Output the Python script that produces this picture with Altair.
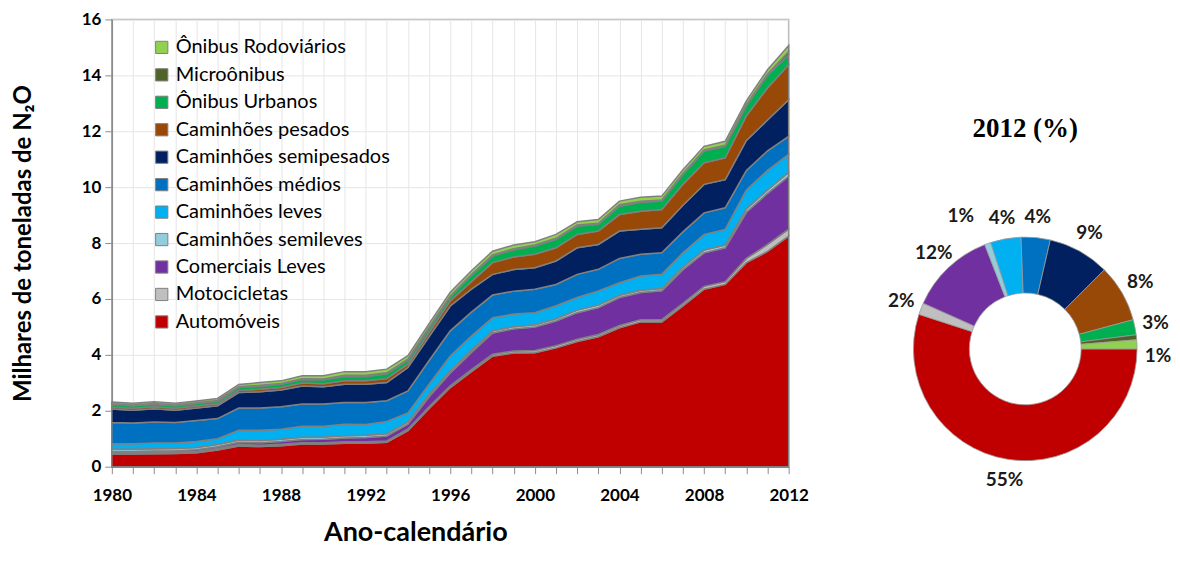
import math
import altair as alt
import pandas as pd

anos = list(range(1980, 2013))

categorias = ["Automóveis", "Motocicletas", "Comerciais Leves", "Caminhões semileves",
              "Caminhões leves", "Caminhões médios", "Caminhões semipesados",
              "Caminhões pesados", "Ônibus Urbanos", "Microônibus", "Ônibus Rodoviários"]
cores = ["#C00000", "#BFBFBF", "#7030A0", "#93CDDD", "#00B0F0", "#0070C0", "#002060",
         "#984807", "#00B050", "#4F6228", "#92D050"]

automoveis = [0.45, 0.45, 0.46, 0.47, 0.50, 0.60, 0.74, 0.72, 0.75, 0.81, 0.81, 0.84, 0.84, 0.87,
              1.29, 2.08, 2.83, 3.40, 3.95, 4.07, 4.08, 4.25, 4.48, 4.65, 4.97, 5.18, 5.18, 5.75,
              6.35, 6.52, 7.30, 7.70, 8.25]
motocicletas = [0.05, 0.05, 0.05, 0.05, 0.05, 0.05, 0.05, 0.05, 0.05, 0.05, 0.05, 0.05, 0.05, 0.05,
                0.06, 0.06, 0.06, 0.07, 0.07, 0.07, 0.08, 0.08, 0.08, 0.08, 0.08, 0.08, 0.08, 0.09,
                0.10, 0.10, 0.15, 0.25, 0.25]
comerciais_leves = [0.04, 0.04, 0.05, 0.05, 0.06, 0.06, 0.08, 0.09, 0.10, 0.11, 0.12, 0.14, 0.15, 0.18,
                    0.17, 0.36, 0.46, 0.62, 0.76, 0.79, 0.84, 0.88, 0.95, 0.96, 1.00, 0.97, 1.03, 1.21,
                    1.20, 1.21, 1.65, 1.83, 1.89]
cam_semileves = [0.08, 0.08, 0.08, 0.08, 0.08, 0.08, 0.08, 0.08, 0.08, 0.08, 0.08, 0.08, 0.08, 0.08,
                 0.08, 0.08, 0.08, 0.08, 0.08, 0.08, 0.08, 0.08, 0.09, 0.09, 0.08, 0.08, 0.08, 0.09,
                 0.10, 0.10, 0.12, 0.12, 0.14]
cam_leves = [0.21, 0.20, 0.21, 0.20, 0.21, 0.21, 0.35, 0.36, 0.36, 0.40, 0.39, 0.41, 0.39, 0.44,
             0.32, 0.37, 0.53, 0.50, 0.47, 0.45, 0.43, 0.47, 0.45, 0.51, 0.45, 0.51, 0.51, 0.51,
             0.56, 0.56, 0.68, 0.70, 0.64]
cam_medios = [0.75, 0.74, 0.75, 0.73, 0.75, 0.72, 0.80, 0.80, 0.80, 0.79, 0.79, 0.78, 0.79, 0.74,
              0.79, 0.85, 0.90, 0.86, 0.81, 0.82, 0.84, 0.76, 0.83, 0.77, 0.87, 0.78, 0.77, 0.75,
              0.77, 0.77, 0.70, 0.70, 0.65]
cam_semipesados = [0.48, 0.46, 0.47, 0.44, 0.45, 0.46, 0.55, 0.58, 0.60, 0.65, 0.62, 0.65, 0.65, 0.65,
                   0.84, 0.85, 0.89, 0.82, 0.74, 0.77, 0.77, 0.84, 0.95, 0.89, 0.98, 0.89, 0.90, 0.95,
                   1.02, 1.01, 1.07, 1.10, 1.31]
cam_pesados = [0.07, 0.07, 0.07, 0.07, 0.07, 0.07, 0.08, 0.09, 0.09, 0.10, 0.11, 0.12, 0.12, 0.14,
               0.12, 0.15, 0.18, 0.27, 0.42, 0.45, 0.48, 0.47, 0.48, 0.48, 0.59, 0.65, 0.65, 0.75,
               0.77, 0.78, 0.88, 1.15, 1.25]
onibus_urbanos = [0.09, 0.09, 0.09, 0.09, 0.09, 0.09, 0.10, 0.11, 0.12, 0.13, 0.14, 0.16, 0.16, 0.17,
                  0.14, 0.15, 0.14, 0.21, 0.24, 0.26, 0.29, 0.30, 0.30, 0.24, 0.30, 0.32, 0.30, 0.35,
                  0.42, 0.41, 0.36, 0.45, 0.36]
microonibus = [0.03, 0.03, 0.03, 0.03, 0.03, 0.03, 0.03, 0.03, 0.03, 0.03, 0.03, 0.04, 0.04, 0.04,
               0.04, 0.04, 0.04, 0.04, 0.04, 0.04, 0.04, 0.04, 0.04, 0.04, 0.05, 0.04, 0.04, 0.04,
               0.04, 0.04, 0.05, 0.05, 0.11]
onibus_rodoviarios = [0.06, 0.06, 0.06, 0.06, 0.06, 0.07, 0.08, 0.10, 0.09, 0.10, 0.11, 0.13, 0.13, 0.13,
                      0.12, 0.13, 0.13, 0.14, 0.13, 0.13, 0.12, 0.14, 0.11, 0.13, 0.13, 0.14, 0.14, 0.13,
                      0.13, 0.14, 0.13, 0.15, 0.22]

series = [automoveis, motocicletas, comerciais_leves, cam_semileves, cam_leves, cam_medios,
          cam_semipesados, cam_pesados, onibus_urbanos, microonibus, onibus_rodoviarios]

# 2012 shares (%) read from the doughnut
parcelas_2012 = [55.0, 1.7, 12.4, 0.9, 4.4, 4.2, 8.9, 8.3, 2.2, 0.7, 1.3]
rotulos_2012 = ["55%", "2%", "12%", "", "4%", "4%", "9%", "8%", "3%", "", ""]
# labels nudged aside (as the original does to avoid collisions)
rotulos_2012_esq = ["", "", "", "1%", "", "", "", "", "", "", ""]
rotulos_2012_baixo = ["", "", "", "", "", "", "", "", "", "", "1%"]

eixo_y_valores = [0, 2, 4, 6, 8, 10, 12, 14, 16]

rows = []
for i, ano in enumerate(anos):
    for k, (cat, serie) in enumerate(zip(categorias, series)):
        rows.append({"Ano": ano, "Categoria": cat, "Valor": serie[i], "ordem": k})
df = pd.DataFrame(rows)

df_pie = pd.DataFrame({"Categoria": categorias, "Parcela": parcelas_2012,
                       "Rotulo": rotulos_2012, "RotuloEsq": rotulos_2012_esq,
                       "RotuloBaixo": rotulos_2012_baixo,
                       "ordem": list(range(len(categorias)))})

FONT = "Lato"
GRID = "#e6e6e6"
AXC = "#8c8c8c"

area = alt.Chart(df).mark_area(stroke="#808080", strokeWidth=1.5, opacity=1).encode(
    x=alt.X("Ano:Q",
            scale=alt.Scale(domain=[1980, 2012], nice=False, zero=False),
            axis=alt.Axis(values=anos, labelExpr="datum.value % 4 == 0 ? '' + datum.value : ''",
                          labelFlush=False, labelOverlap=False, labelPadding=14, tickSize=7,
                          title="Ano-calendário", titleX=304, titleY=74,
                          titleBaseline="alphabetic", titleFontSize=27)),
    y=alt.Y("Valor:Q", stack="zero",
            scale=alt.Scale(domain=[0, 16], nice=False),
            axis=alt.Axis(values=eixo_y_valores, labelFlush=False, labelPadding=4, tickSize=7,
                          title="Milhares de toneladas de N₂O", titlePadding=46,
                          titleFontSize=24)),
    color=alt.Color("Categoria:N",
                    scale=alt.Scale(domain=categorias[::-1], range=cores[::-1]),
                    legend=alt.Legend(title=None, orient="none", legendX=40, legendY=18,
                                      symbolType="square", symbolSize=150, labelFont=FONT,
                                      labelFontSize=20, labelColor="#000000", rowPadding=7.5,
                                      labelLimit=400,
                                      symbolStrokeColor="#808080", symbolStrokeWidth=1,
                                      labelOffset=4, padding=0)),
    order=alt.Order("ordem:Q", sort="ascending"),
).properties(width=678, height=448, view=alt.ViewBackground(stroke="#a6a6a6", strokeWidth=1.5))

CX, CY, TY = 210, 330, 110
R_LAB = 133

theta = alt.Theta("Parcela:Q", stack=True,
                  scale=alt.Scale(range=[math.pi / 2, math.pi / 2 + 2 * math.pi]))
order = alt.Order("ordem:Q", sort="ascending")

arcs = alt.Chart(df_pie).mark_arc(innerRadius=56, outerRadius=112, stroke="#9a9a9a",
                                  strokeWidth=0.8).encode(
    theta=theta,
    color=alt.Color("Categoria:N", scale=alt.Scale(domain=categorias, range=cores), legend=None),
    order=order,
    x=alt.value(CX), y=alt.value(CY),
)


def camada_rotulo(campo, dx=0, dy=0):
    return alt.Chart(df_pie).mark_text(radius=R_LAB, font=FONT, fontWeight="bold", fontSize=19,
                                       color="#1a1a1a", dx=dx, dy=dy).encode(
        theta=theta, order=order, text=f"{campo}:N",
        x=alt.value(CX), y=alt.value(CY),
    )


labels = camada_rotulo("Rotulo")
labels_esq = camada_rotulo("RotuloEsq", dx=-20, dy=-8)
labels_baixo = camada_rotulo("RotuloBaixo", dx=0, dy=13)

titulo = alt.Chart(pd.DataFrame({"t": ["2012 (%)"]})).mark_text(
    font="Liberation Serif", fontWeight="bold", fontSize=27, color="#000000"
).encode(text="t:N", x=alt.value(CX), y=alt.value(TY))

donut = alt.layer(arcs, labels, labels_esq, labels_baixo, titulo).properties(
    width=300, height=448, view=alt.ViewBackground(stroke="transparent"))

chart = alt.hconcat(area, donut, spacing=5).resolve_scale(
    color="independent", theta="independent"
).configure(padding={"left": 2, "top": 1, "right": 0, "bottom": 0}).configure_axis(
    labelFont=FONT, labelFontSize=17, labelFontWeight="bold", labelColor="#000000",
    titleFont=FONT, titleFontWeight="bold", titleColor="#000000",
    domainColor=AXC, domainWidth=1.5, tickColor=AXC, tickWidth=1,
    gridColor=GRID, gridWidth=1,
)

chart.save("out.html", embed_options={"renderer": "svg", "actions": False})
